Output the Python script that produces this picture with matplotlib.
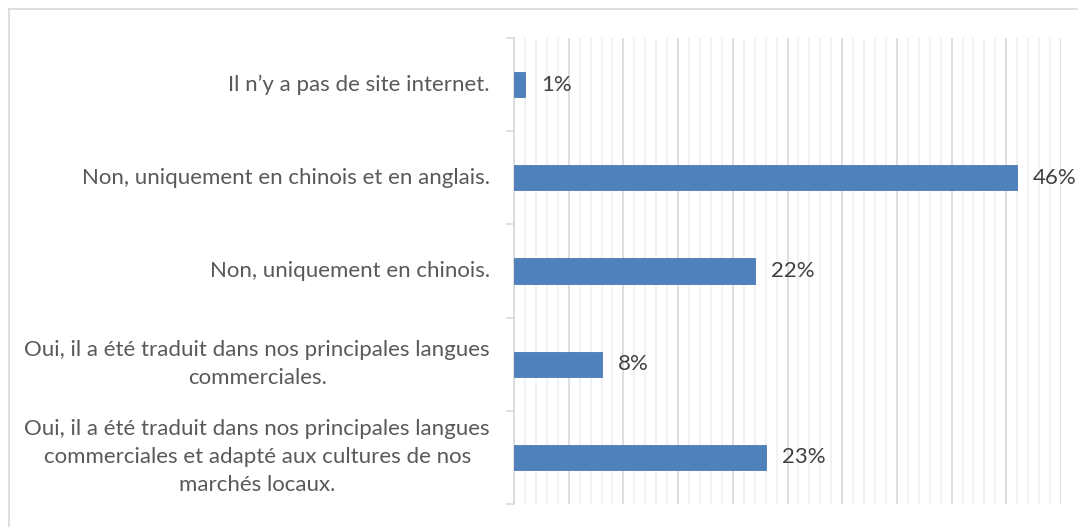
import matplotlib.pyplot as plt
import matplotlib.lines as mlines
import numpy as np

plt.rcParams['font.family'] = ['Lato', 'DejaVu Sans']

categories = [
    "Il n\u2019y a pas de site internet.",
    "Non, uniquement en chinois et en anglais.",
    "Non, uniquement en chinois.",
    "Oui, il a \u00e9t\u00e9 traduit dans nos principales langues\ncommerciales.",
    "Oui, il a \u00e9t\u00e9 traduit dans nos principales langues\ncommerciales et adapt\u00e9 aux cultures de nos\nmarch\u00e9s locaux.",
]
values = [1, 46, 22, 8, 23]
value_labels = ["1%", "46%", "22%", "8%", "23%"]

W, H = 1078, 527
fig = plt.figure(figsize=(W / 100, H / 100), dpi=100)
ax = fig.add_axes([514 / W, 1 - 504 / H, (1061 - 514) / W, (504 - 38) / H])

y = np.arange(len(categories))
ax.barh(y, values, height=0.27, color='#4f81bd', edgecolor='#4a7ab5', linewidth=0.6, zorder=3)

ax.set_xlim(0, 50)
ax.set_ylim(len(categories) - 0.5, -0.5)

# gridlines: minor every 1%, major every 5%
ax.set_xticks(np.arange(0, 51, 5))
ax.set_xticks(np.arange(0, 51, 1), minor=True)
ax.grid(axis='x', which='minor', color='#f0f0f0', linewidth=1.2, zorder=0)
ax.grid(axis='x', which='major', color='#d9d9d9', linewidth=1.2, zorder=1)
ax.tick_params(axis='x', which='both', length=0, labelbottom=False)

# category boundary ticks on the y axis
ax.set_yticks(np.arange(-0.5, len(categories), 1))
ax.set_yticklabels([])
ax.tick_params(axis='y', length=6, color='#d9d9d9', width=1.2)
for s in ['top', 'right', 'bottom']:
    ax.spines[s].set_visible(False)
ax.spines['left'].set_color('#d9d9d9')
ax.spines['left'].set_linewidth(1.2)

for yi, lab in zip(y, categories):
    ax.annotate(lab, xy=(0, yi), xycoords='data', xytext=(-24, 0), textcoords='offset pixels',
                ha='right', va='center', multialignment='center',
                fontsize=16, color='#595959', linespacing=1.5)

for yi, v, lab in zip(y, values, value_labels):
    ax.annotate(lab, xy=(v, yi), xycoords='data', xytext=(16, 0), textcoords='offset pixels',
                ha='left', va='center', fontsize=16, color='#404040')

# outer chart border
fig.add_artist(mlines.Line2D([9 / W, 9 / W], [0, 1 - 9 / H], color='#d9d9d9', linewidth=1.2))
fig.add_artist(mlines.Line2D([9 / W, 1], [1 - 9 / H, 1 - 9 / H], color='#d9d9d9', linewidth=1.2))

plt.savefig('out.png', dpi=100)
